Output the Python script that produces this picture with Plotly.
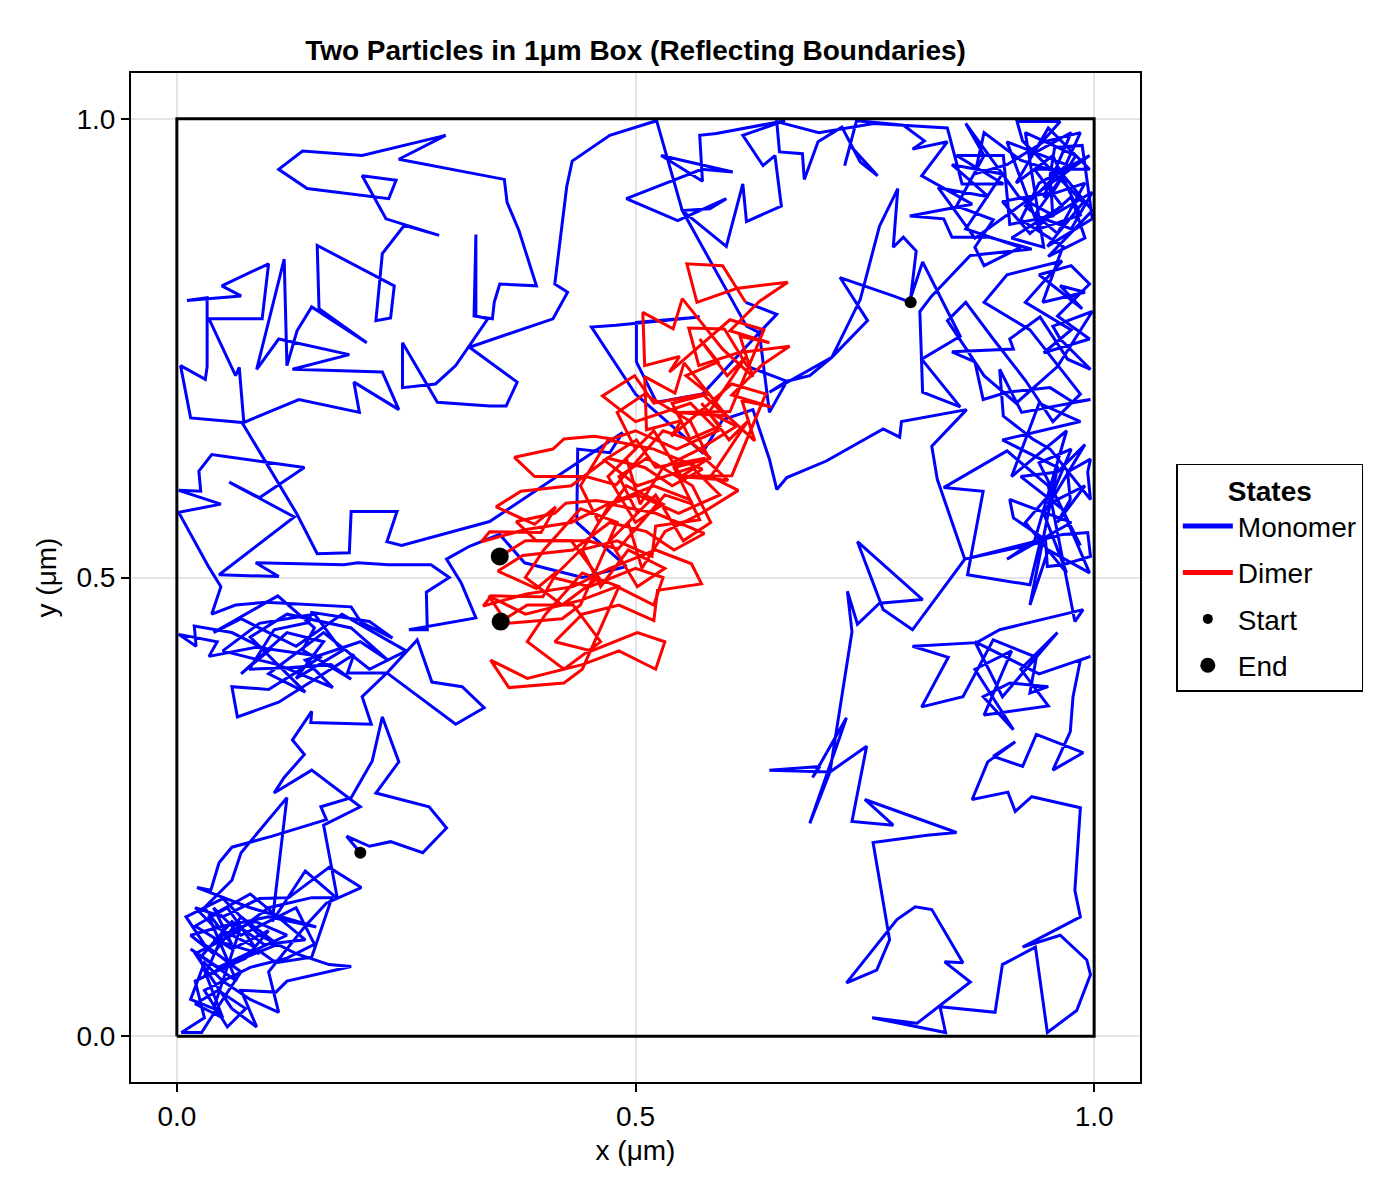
import plotly.graph_objects as go

# ---------------- data (positions in µm) ----------------
monomer1_path = [
    (0.200,0.200),(0.185,0.218),(0.210,0.207),(0.233,0.212),(0.268,0.200),(0.294,0.227),(0.275,0.250),(0.217,0.265),
    (0.242,0.299),(0.224,0.348),(0.213,0.300),(0.190,0.260),(0.157,0.250),(0.163,0.236),(0.104,0.218),(0.060,0.206),
    (0.046,0.189),(0.037,0.159),(0.022,0.162),(0.080,0.140),(0.152,0.119),(0.100,0.130),(0.046,0.119),(0.015,0.110),
    (0.040,0.090),(0.070,0.130),(0.110,0.100),(0.060,0.080),(0.020,0.060),(0.030,0.020),(0.005,0.004),(0.027,0.004),
    (0.050,0.040),(0.070,0.070),(0.030,0.100),(0.010,0.130),(0.050,0.150),(0.090,0.110),(0.130,0.090),(0.166,0.078),
    (0.190,0.076),(0.120,0.060),(0.108,0.048),(0.070,0.050),(0.087,0.010),(0.060,0.030),(0.040,0.060),(0.020,0.090),
    (0.060,0.110),(0.100,0.140),(0.147,0.151),(0.169,0.151),(0.147,0.086),(0.108,0.080),(0.080,0.100),(0.040,0.120),
    (0.020,0.140),(0.050,0.130),(0.090,0.150),(0.122,0.151),(0.166,0.184),(0.201,0.162),(0.163,0.145),(0.140,0.120),
    (0.100,0.070),(0.111,0.026),(0.080,0.040),(0.050,0.060),(0.030,0.080),(0.015,0.040),(0.040,0.030),
    (0.070,0.120),(0.040,0.105),(0.090,0.090),(0.055,0.140),(0.020,0.120),(0.060,0.095),(0.100,0.115),(0.075,0.085),
    (0.030,0.065),(0.050,0.110),(0.085,0.125),(0.120,0.110),(0.045,0.075),(0.015,0.095),(0.065,0.060),(0.035,0.130),
    (0.080,0.155),(0.110,0.130),(0.140,0.105),(0.095,0.100),(0.060,0.125),(0.025,0.085),(0.050,0.020),(0.020,0.035),
    (0.045,0.050),(0.075,0.030),(0.055,0.010),(0.030,0.050),(0.080,0.075),(0.120,0.085),(0.150,0.100),(0.130,0.140),
    (0.070,0.110),(0.040,0.140),(0.060,0.100),
    (0.030,0.140),(0.060,0.170),(0.070,0.200),(0.120,0.260),(0.104,0.125),(0.140,0.180),(0.175,0.150),(0.160,0.230),
    (0.200,0.250),(0.147,0.290),(0.106,0.265),(0.117,0.282),(0.139,0.307),(0.126,0.323),(0.147,0.354),
    (0.146,0.342),(0.212,0.340),(0.202,0.370),(0.229,0.396),(0.304,0.340),(0.335,0.358),(0.311,0.381),(0.278,0.386),
    (0.262,0.432),(0.229,0.396),(0.186,0.396),(0.193,0.416),(0.111,0.364),(0.066,0.348),(0.060,0.381),(0.100,0.378),
    (0.158,0.414),(0.087,0.424),(0.035,0.414),(0.044,0.430),(0.002,0.438),(0.021,0.425),(0.019,0.447),
    (0.060,0.440),(0.100,0.420),(0.070,0.395),(0.120,0.440),(0.160,0.430),(0.130,0.390),(0.180,0.420),(0.150,0.460),
    (0.090,0.450),(0.050,0.420),(0.110,0.405),(0.170,0.380),(0.140,0.410),(0.200,0.430),(0.230,0.410),(0.190,0.445),
    (0.120,0.460),(0.080,0.435),(0.140,0.375),(0.100,0.395),(0.160,0.440),(0.210,0.400),(0.250,0.420),(0.180,0.460),
    (0.130,0.425),(0.070,0.455),(0.040,0.440),(0.110,0.480),(0.150,0.445),
    (0.137,0.421),(0.190,0.389),(0.168,0.405),(0.124,0.402),(0.079,0.400),(0.106,0.443),(0.144,0.451),(0.147,0.462),
    (0.210,0.452),(0.235,0.434),(0.201,0.451),(0.190,0.468),(0.097,0.473),(0.064,0.470),(0.038,0.460),(0.048,0.490),
    (0.035,0.511),(0.002,0.571),(0.048,0.580),(0.002,0.595),(0.026,0.594),(0.024,0.616),(0.038,0.634),(0.139,0.620),
    (0.090,0.587),(0.057,0.604),(0.128,0.566),(0.046,0.503),(0.111,0.501),(0.086,0.516),(0.182,0.514),(0.197,0.516),
    (0.231,0.514),(0.277,0.514),(0.297,0.500),(0.272,0.484),(0.273,0.443),(0.253,0.443),(0.326,0.456),(0.310,0.494),
    (0.294,0.520),(0.319,0.534),(0.352,0.547),(0.379,0.516),(0.442,0.500),(0.490,0.512),(0.436,0.560),(0.437,0.640),
    (0.472,0.636),(0.486,0.658),(0.341,0.561),(0.245,0.535),(0.229,0.539),(0.240,0.572),(0.190,0.572),(0.188,0.527),
    (0.153,0.526),(0.131,0.569),(0.071,0.669),(0.015,0.674),(0.004,0.731),(0.031,0.716),(0.033,0.730),(0.033,0.805),
    (0.011,0.802),(0.070,0.807),(0.049,0.818),(0.100,0.842),(0.093,0.782),(0.035,0.782),(0.064,0.720),(0.068,0.729),
    (0.073,0.669),(0.133,0.694),(0.199,0.680),(0.193,0.713),(0.242,0.683),(0.224,0.724),(0.126,0.727),(0.188,0.743),
    (0.111,0.760),(0.087,0.727),(0.117,0.847),(0.120,0.731),(0.131,0.769),(0.147,0.795),(0.207,0.756),(0.155,0.793),
    (0.153,0.862),(0.237,0.818),(0.233,0.783),(0.217,0.780),(0.224,0.853),(0.248,0.884),(0.286,0.873),(0.228,0.891),
    (0.202,0.938),(0.239,0.933),(0.231,0.913),(0.142,0.924),(0.111,0.945),(0.137,0.965),(0.202,0.960),(0.293,0.982),
    (0.242,0.956),(0.357,0.934),(0.360,0.909),(0.373,0.878),(0.392,0.818),(0.352,0.820),(0.346,0.800),(0.344,0.782),
    (0.324,0.785),(0.326,0.874),(0.326,0.785),(0.339,0.782),(0.304,0.731),(0.282,0.711),(0.246,0.707),(0.246,0.756),
    (0.284,0.691),(0.341,0.687),(0.359,0.687),(0.371,0.713),(0.319,0.751),(0.410,0.782),(0.426,0.811),(0.412,0.820),
    (0.425,0.926),(0.431,0.954),(0.472,0.982),(0.523,0.998),(0.551,0.900),(0.599,0.861),(0.617,0.929),(0.621,0.888),
    (0.659,0.905),(0.652,0.960),(0.639,0.949),(0.617,0.982),(0.663,0.998),(0.588,0.984),(0.570,0.982),(0.573,0.932),
    (0.528,0.960),(0.606,0.942),(0.572,0.945),(0.490,0.913),(0.546,0.889),(0.599,0.913),(0.581,0.902),(0.551,0.900),
    (0.621,0.774),(0.635,0.767),(0.654,0.787),(0.620,0.800),
]

monomer2_path = [
    (0.800,0.800),(0.781,0.807),(0.723,0.827),(0.753,0.780),(0.714,0.740),(0.690,0.720),(0.665,0.714),(0.646,0.702),
    (0.714,0.740),(0.745,0.803),(0.766,0.883),(0.786,0.924),(0.781,0.860),(0.792,0.871),(0.806,0.856),(0.800,0.805),
    (0.813,0.844),(0.854,0.763),(0.812,0.738),(0.854,0.686),(0.813,0.702),(0.810,0.790),(0.823,0.807),(0.865,0.851),
    (0.932,0.858),(0.886,0.871),(0.845,0.871),(0.836,0.891),(0.799,0.894),(0.867,0.907),(0.812,0.938),(0.840,0.975),
    (0.802,0.967),(0.815,0.976),(0.792,0.993),(0.741,0.998),(0.728,0.949),(0.734,0.971),(0.764,0.938),(0.745,0.953),
    (0.725,0.991),(0.699,0.975),(0.684,0.934),(0.682,0.962),(0.657,0.964),(0.654,0.997),(0.700,0.985),(0.760,0.995),
    (0.840,0.990),(0.856,0.929),(0.901,0.929),(0.850,0.960),(0.901,0.960),(0.908,0.885),(0.955,0.894),(0.952,0.938),
    (0.957,0.969),(0.987,0.971),(0.998,0.891),(0.949,0.861),(0.988,0.909),(0.922,0.976),(0.916,0.997),(0.963,0.997),
    (0.930,0.960),(0.975,0.985),(0.945,0.915),(0.990,0.930),(0.960,0.875),(0.925,0.905),(0.970,0.950),(0.905,0.975),
    (0.940,0.880),(0.985,0.895),(0.955,0.960),(0.915,0.930),(0.950,0.990),(0.995,0.945),(0.935,0.945),(0.965,0.905),
    (0.910,0.870),(0.945,0.860),(0.925,0.985),(0.980,0.960),(0.955,0.920),(0.900,0.910),(0.930,0.875),(0.975,0.915),
    (0.990,0.870),(0.950,0.850),(0.998,0.900),(0.965,0.940),(0.920,0.955),(0.880,0.985),(0.870,0.940),(0.905,0.950),
    (0.945,0.975),(0.985,0.985),(0.960,0.930),(0.935,0.895),(0.975,0.880),(0.998,0.920),(0.955,0.895),(0.918,0.915),
    (0.860,0.995),(0.880,0.960),(0.850,0.905),(0.890,0.890),(0.870,0.860),
    (0.880,0.840),(0.920,0.860),(0.860,0.880),(0.900,0.940),(0.845,0.950),(0.885,0.915),(0.830,0.925),(0.870,0.870),
    (0.995,0.960),(0.940,0.930),(0.920,0.890),(0.966,0.861),(0.944,0.800),(0.990,0.811),(0.963,0.818),(0.987,0.793),
    (0.940,0.830),(0.975,0.840),(0.995,0.820),(0.960,0.785),(0.995,0.760),(0.945,0.745),(0.975,0.770),(0.925,0.800),
    (0.965,0.845),(0.905,0.830),(0.880,0.800),(0.930,0.770),(0.985,0.700),(0.955,0.670),(0.925,0.715),(0.890,0.760),
    (0.860,0.800),(0.840,0.780),(0.880,0.720),(0.915,0.690),(0.960,0.730),(0.998,0.790),
    (0.955,0.774),(0.963,0.760),(0.996,0.727),(0.971,0.738),(0.941,0.784),(0.908,0.760),(0.912,0.749),(0.845,0.746),
    (0.870,0.735),(0.879,0.694),(0.905,0.702),(0.952,0.707),(0.977,0.691),(0.996,0.694),(0.921,0.680),(0.897,0.727),
    (0.901,0.676),(0.933,0.651),(0.952,0.640),(0.996,0.585),(0.993,0.615),(0.996,0.629),(0.971,0.615),(0.974,0.585),
    (0.960,0.560),(0.990,0.600),(0.950,0.580),(0.975,0.640),(0.940,0.625),(0.985,0.535),(0.955,0.595),(0.925,0.560),
    (0.970,0.505),(0.945,0.570),(0.990,0.645),(0.960,0.615),(0.920,0.610),(0.965,0.575),(0.995,0.505),(0.950,0.530),
    (0.930,0.470),(0.960,0.620),(0.900,0.650),(0.985,0.670),(0.940,0.690),(0.910,0.610),(0.970,0.660),(0.935,0.540),
    (0.905,0.520),(0.975,0.560),
    (0.908,0.585),(0.912,0.565),(0.947,0.541),(0.949,0.512),(0.966,0.514),(0.996,0.523),(0.993,0.549),(0.966,0.547),
    (0.922,0.536),(0.859,0.520),(0.941,0.538),(0.930,0.492),(0.862,0.503),(0.879,0.594),(0.836,0.598),(0.905,0.638),
    (0.950,0.600),(0.979,0.452),(0.988,0.465),(0.897,0.443),(0.872,0.429),(0.802,0.425),(0.841,0.413),(0.812,0.359),
    (0.857,0.370),(0.890,0.432),(0.937,0.413),(0.930,0.374),(0.950,0.381),(0.908,0.385),(0.879,0.370),(0.912,0.334),
    (0.870,0.400),(0.910,0.420),(0.880,0.350),(0.950,0.360),(0.920,0.400),(0.960,0.440),(0.900,0.370),(0.870,0.430),
    (0.940,0.395),
    (0.996,0.414),(0.985,0.410),(0.977,0.370),(0.974,0.332),(0.955,0.290),(0.988,0.309),(0.937,0.329),(0.922,0.294),
    (0.890,0.305),(0.914,0.321),(0.884,0.299),(0.867,0.258),(0.906,0.266),(0.914,0.245),(0.932,0.261),(0.985,0.249),
    (0.979,0.159),(0.985,0.130),(0.922,0.097),(0.963,0.110),(0.992,0.083),(0.996,0.067),(0.981,0.028),(0.949,0.004),
    (0.936,0.097),(0.900,0.078),(0.892,0.026),(0.832,0.032),(0.838,0.004),(0.758,0.020),(0.807,0.014),(0.865,0.059),
    (0.837,0.081),(0.857,0.080),(0.823,0.138),(0.805,0.141),(0.785,0.127),(0.730,0.058),(0.763,0.072),(0.777,0.105),
    (0.759,0.211),(0.818,0.219),(0.850,0.222),(0.800,0.240),(0.750,0.258),(0.781,0.230),(0.736,0.234),(0.752,0.316),
    (0.712,0.288),(0.690,0.232),(0.730,0.347),(0.693,0.282),(0.701,0.294),(0.646,0.290),(0.712,0.288),(0.736,0.441),
    (0.731,0.485),(0.742,0.449),(0.766,0.472),(0.813,0.476),(0.742,0.539),(0.770,0.465),(0.802,0.443),(0.859,0.520),
    (0.829,0.607),(0.823,0.643),(0.861,0.683),(0.790,0.670),(0.788,0.653),(0.770,0.662),(0.708,0.627),(0.665,0.609),
    (0.654,0.596),(0.646,0.629),(0.628,0.683),(0.595,0.672),(0.573,0.636),(0.500,0.700),(0.452,0.773),(0.479,0.775),
    (0.570,0.784),(0.501,0.778),(0.501,0.735),(0.523,0.691),(0.573,0.700),(0.635,0.767),(0.646,0.680),(0.665,0.714),
    (0.622,0.730),
]

dimer1_path = [
    (0.620,0.800),(0.595,0.840),(0.556,0.842),(0.567,0.800),(0.610,0.815),(0.666,0.822),(0.635,0.801),(0.603,0.769),
    (0.646,0.756),(0.614,0.763),(0.628,0.719),(0.595,0.749),(0.551,0.804),(0.541,0.771),(0.508,0.789),(0.510,0.731),
    (0.548,0.741),(0.537,0.724),(0.603,0.781),(0.640,0.770),(0.603,0.681),(0.545,0.680),(0.599,0.676),(0.573,0.700),
    (0.520,0.690),(0.499,0.720),(0.464,0.698),(0.500,0.670),(0.560,0.690),(0.590,0.660),(0.545,0.640),(0.500,0.660),
    (0.474,0.651),(0.455,0.654),(0.422,0.651),(0.410,0.640),(0.368,0.631),(0.390,0.610),(0.446,0.610),(0.479,0.601),
    (0.500,0.625),(0.530,0.660),(0.560,0.650),(0.540,0.690),(0.580,0.700),(0.555,0.720),(0.590,0.735),(0.570,0.760),
    (0.600,0.720),(0.620,0.740),(0.580,0.680),(0.610,0.665),(0.570,0.640),(0.530,0.620),(0.505,0.580),(0.490,0.630),
    (0.520,0.660),(0.550,0.610),(0.580,0.630),(0.560,0.670),(0.510,0.700),(0.480,0.680),(0.500,0.640),(0.470,0.610),
    (0.500,0.560),(0.530,0.580),(0.490,0.600),(0.460,0.560),(0.440,0.600),(0.470,0.650),
    (0.520,0.640),(0.573,0.618),(0.540,0.600),(0.510,0.620),(0.470,0.630),(0.430,0.600),(0.375,0.594),(0.348,0.577),
    (0.390,0.558),(0.413,0.577),(0.397,0.549),(0.341,0.550),(0.332,0.539),(0.379,0.552),(0.430,0.560),(0.470,0.580),
    (0.520,0.600),(0.559,0.585),(0.570,0.563),(0.522,0.556),(0.518,0.523),(0.480,0.540),(0.440,0.530),(0.410,0.500),
    (0.450,0.490),(0.500,0.510),(0.530,0.500),(0.520,0.470),(0.480,0.490),(0.440,0.475),(0.380,0.460),(0.340,0.480),
    (0.360,0.450),(0.420,0.455),(0.440,0.470),(0.480,0.560),(0.440,0.575),(0.400,0.530),(0.380,0.500),(0.420,0.470),
    (0.460,0.500),(0.430,0.540),(0.380,0.540),(0.352,0.523),
]

dimer2_path = [
    (0.622,0.730),(0.597,0.771),(0.558,0.772),(0.569,0.731),(0.612,0.745),(0.668,0.752),(0.637,0.731),(0.605,0.699),
    (0.648,0.686),(0.616,0.693),(0.630,0.649),(0.597,0.679),(0.553,0.734),(0.543,0.701),(0.510,0.719),(0.512,0.661),
    (0.550,0.671),(0.539,0.654),(0.605,0.711),(0.642,0.700),(0.605,0.611),(0.547,0.610),(0.601,0.606),(0.575,0.630),
    (0.522,0.620),(0.501,0.650),(0.466,0.628),(0.502,0.600),(0.562,0.620),(0.592,0.590),(0.547,0.570),(0.502,0.590),
    (0.476,0.581),(0.457,0.584),(0.424,0.581),(0.412,0.570),(0.370,0.561),(0.392,0.540),(0.448,0.540),(0.481,0.531),
    (0.502,0.555),(0.532,0.590),(0.562,0.580),(0.542,0.620),(0.582,0.630),(0.557,0.650),(0.592,0.665),(0.572,0.690),
    (0.602,0.650),(0.622,0.670),(0.582,0.610),(0.612,0.595),(0.572,0.570),(0.532,0.550),(0.507,0.510),(0.492,0.560),
    (0.522,0.590),(0.552,0.540),(0.582,0.560),(0.562,0.600),(0.512,0.630),(0.482,0.610),(0.502,0.570),(0.472,0.540),
    (0.502,0.490),(0.532,0.510),(0.492,0.530),(0.462,0.490),(0.442,0.530),(0.472,0.580),
    (0.522,0.570),(0.575,0.548),(0.542,0.530),(0.512,0.550),(0.472,0.560),(0.432,0.530),(0.377,0.524),(0.350,0.507),
    (0.392,0.488),(0.415,0.507),(0.399,0.479),(0.343,0.480),(0.334,0.469),(0.381,0.482),(0.432,0.490),(0.472,0.510),
    (0.522,0.530),(0.561,0.515),(0.572,0.493),(0.524,0.486),(0.520,0.453),(0.482,0.470),(0.442,0.460),(0.412,0.430),
    (0.452,0.420),(0.502,0.440),(0.532,0.430),(0.522,0.400),(0.482,0.420),(0.442,0.405),(0.382,0.390),(0.342,0.410),
    (0.362,0.380),(0.422,0.385),(0.442,0.400),(0.482,0.490),(0.442,0.505),(0.402,0.460),(0.382,0.430),(0.422,0.400),
    (0.462,0.430),(0.432,0.470),(0.382,0.470),(0.353,0.452),
]

start_x = [0.200, 0.800]
start_y = [0.200, 0.800]
end_x = [0.352, 0.353]
end_y = [0.523, 0.452]

box_x = [0, 1, 1, 0, 0]
box_y = [0, 0, 1, 1, 0]

tick_vals = [0.0, 0.5, 1.0]
tick_text = ["0.0", "0.5", "1.0"]

BLUE = "#0000ff"
RED = "#ff0000"
FONT = "Liberation Sans, Arial, sans-serif"

fig = go.Figure()

def add_path(path, color):
    xs = [p[0] for p in path]
    ys = [p[1] for p in path]
    fig.add_trace(go.Scatter(x=xs, y=ys, mode="lines", showlegend=False,
                             line=dict(color=color, width=3), hoverinfo="skip"))

add_path(monomer1_path, BLUE)
add_path(monomer2_path, BLUE)
add_path(dimer1_path, RED)
add_path(dimer2_path, RED)

fig.add_trace(go.Scatter(x=box_x, y=box_y, mode="lines", showlegend=False,
                         line=dict(color="black", width=3), hoverinfo="skip"))

fig.add_trace(go.Scatter(x=start_x, y=start_y, mode="markers", showlegend=False,
                         marker=dict(color="black", size=12)))
fig.add_trace(go.Scatter(x=end_x, y=end_y, mode="markers", showlegend=False,
                         marker=dict(color="black", size=18)))

# legend entries
fig.add_trace(go.Scatter(x=[None], y=[None], mode="lines", name="Monomer",
                         legendgroup="g1", line=dict(color=BLUE, width=5)))
fig.add_trace(go.Scatter(x=[None], y=[None], mode="lines", name="Dimer",
                         legendgroup="g2", line=dict(color=RED, width=5)))
fig.add_trace(go.Scatter(x=[None], y=[None], mode="markers", name="Start",
                         legendgroup="g3", marker=dict(color="black", size=10)))
fig.add_trace(go.Scatter(x=[None], y=[None], mode="markers", name="End",
                         legendgroup="g4", marker=dict(color="black", size=15)))

axis_common = dict(
    range=[-0.05, 1.05], tickvals=tick_vals, ticktext=tick_text,
    ticks="outside", ticklen=8, tickwidth=1.5, tickcolor="black",
    showline=True, mirror=True, linecolor="black", linewidth=2,
    showgrid=True, gridcolor="#e4e4e4", gridwidth=1.5, zeroline=False,
    tickfont=dict(size=28, color="black", family=FONT),
)

fig.update_layout(
    width=1400, height=1200,
    margin=dict(l=131, r=260, t=73, b=118),
    paper_bgcolor="white", plot_bgcolor="white",
    font=dict(family=FONT, size=28, color="black"),
    title=dict(text="<b>Two Particles in 1μm Box (Reflecting Boundaries)</b>",
               x=0.5, xref="paper", xanchor="center",
               y=1 - 50 / 1200, yref="container", yanchor="middle",
               font=dict(size=28, family=FONT, color="black")),
    xaxis=dict(axis_common, title=dict(text="x (μm)", standoff=10,
                                       font=dict(size=28, family=FONT))),
    yaxis=dict(axis_common, title=dict(text="y (μm)", standoff=12,
                                       font=dict(size=28, family=FONT))),
    legend=dict(x=1.036, y=0.5, xanchor="left", yanchor="middle",
                bordercolor="black", borderwidth=1.5, bgcolor="white",
                itemwidth=50, traceorder="grouped", tracegroupgap=7,
                font=dict(size=28, family=FONT, color="black"),
                title=dict(text="<b>States</b>", side="top center",
                           font=dict(size=28, family=FONT))),
    showlegend=True,
)

fig.write_html("out.html")
